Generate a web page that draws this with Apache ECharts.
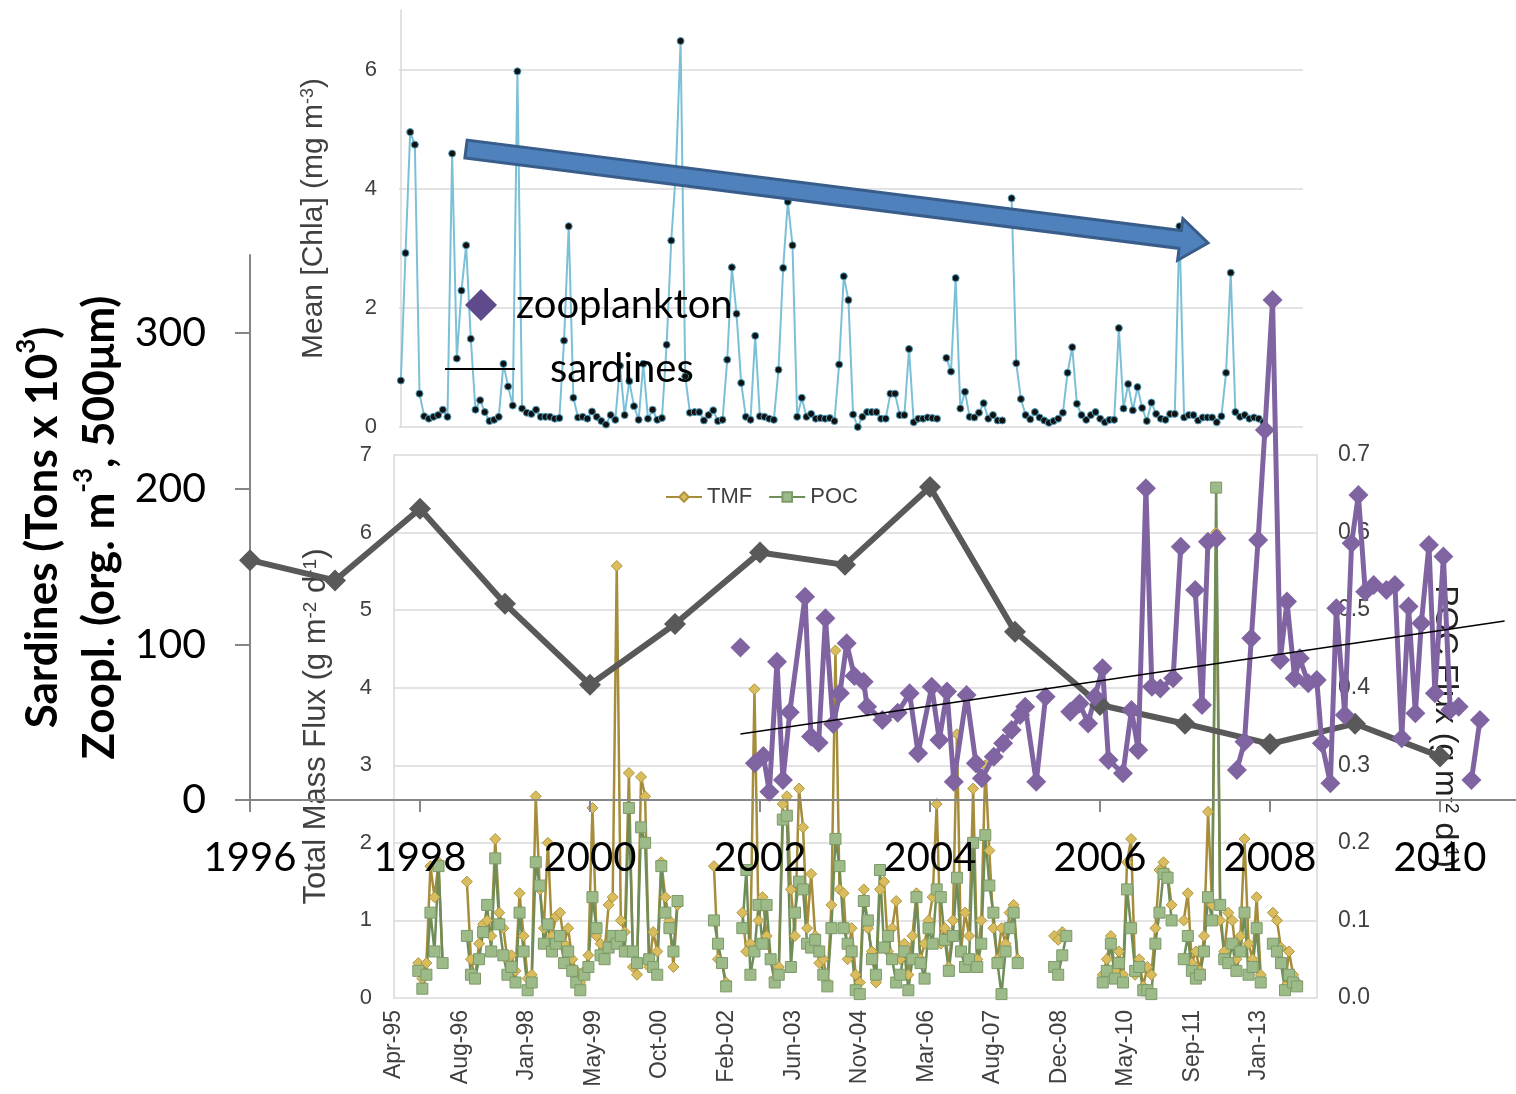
<!DOCTYPE html>
<html>
<head>
<meta charset="utf-8">
<script src="https://cdn.jsdelivr.net/npm/echarts@6/dist/echarts.min.js"></script>
<style>
  html, body { margin: 0; padding: 0; background: #fff; }
  #chart { width: 1516px; height: 1094px; }
</style>
</head>
<body>
<div id="chart"></div>
<script>
// ---- top panel: mean chlorophyll, one value per cruise (mg m-3) ----
const chla = [
  0.78, 2.92, 4.95, 4.74, 0.56, 0.18, 0.14, 0.17, 0.2, 0.29,
  0.17, 4.59, 1.15, 2.29, 3.05, 1.48, 0.29, 0.45, 0.25, 0.1,
  0.12, 0.17, 1.06, 0.68, 0.36, 5.97, 0.31, 0.24, 0.22, 0.29,
  0.17, 0.17, 0.17, 0.14, 0.15, 1.45, 3.37, 0.49, 0.16, 0.17,
  0.14, 0.26, 0.17, 0.1, 0.04, 0.2, 0.12, 1.03, 0.2, 0.77,
  0.35, 0.12, 1.06, 0.14, 0.29, 0.12, 0.15, 1.38, 3.13, 4.3,
  6.48, 0.85, 0.24, 0.25, 0.25, 0.11, 0.2, 0.28, 0.1, 0.12,
  1.13, 2.68, 1.9, 0.74, 0.17, 0.12, 1.53, 0.18, 0.17, 0.14,
  0.12, 0.96, 2.67, 3.78, 3.05, 0.17, 0.49, 0.17, 0.22, 0.14,
  0.15, 0.14, 0.15, 0.1, 1.05, 2.53, 2.13, 0.21, 0.0, 0.17,
  0.25, 0.25, 0.25, 0.14, 0.14, 0.56, 0.56, 0.2, 0.2, 1.31,
  0.08, 0.14, 0.14, 0.16, 0.15, 0.14, null, 1.16, 0.93, 2.5,
  0.31, 0.59, 0.17, 0.16, 0.24, 0.4, 0.14, 0.2, 0.11, 0.11,
  null, 3.84, 1.07, 0.47, 0.2, 0.13, 0.25, 0.16, 0.11, 0.07,
  0.1, 0.14, 0.24, 0.91, 1.34, 0.39, 0.2, 0.12, 0.2, 0.25,
  0.14, 0.08, 0.12, 0.12, 1.66, 0.31, 0.72, 0.28, 0.67, 0.32,
  0.1, 0.41, 0.22, 0.14, 0.12, 0.22, 0.22, 3.37, 0.16, 0.2,
  0.2, 0.11, 0.16, 0.16, 0.16, 0.08, 0.18, 0.91, 2.59, 0.25,
  0.17, 0.2, 0.14, 0.16, 0.14, 0.08
];
const chlaTicks = [0, 2, 4, 6];

// ---- middle panel: sediment trap fluxes, one value per month after Apr-95 ----
const fluxStart = Date.UTC(1995, 3, 12);
const tmf = [ // g m-2 d-1
  null, null, null, null, null, null, 0.45, 0.25, 0.45, 1.7,
  1.3, 1.75, 0.45, null, null, null, null, null, 1.5, 0.5,
  0.25, 0.7, 0.95, 1.0, 0.8, 2.05, 1.1, 0.9, 0.5, 0.55,
  0.35, 1.35, 0.8, 0.25, 0.3, 2.6, 1.4, 0.9, 2.0, 0.8,
  1.05, 1.1, 0.7, 0.9, 0.5, 0.35, 0.2, 0.35, 0.55, 2.45,
  0.8, 0.7, 0.6, 1.2, 1.3, 5.57, 1.0, 0.85, 2.9, 0.4,
  0.3, 2.85, 2.6, 0.4, 0.85, 0.6, 1.75, 1.3, 1.0, 0.4,
  1.2, null, null, null, null, null, null, null, null, 1.7,
  0.5, 0.45, 0.2, null, null, null, 1.1, 0.6, 0.7, 3.98,
  1.0, 1.3, 0.8, 0.5, 0.25, 0.4, 2.5, 2.6, 1.4, 0.8,
  2.7, 2.2, 0.9, 1.6, 0.8, 0.45, 0.5, 0.2, 1.2, 4.48,
  1.4, 1.35, 0.5, 0.9, 0.3, 0.2, 1.4, 0.9, 0.6, 0.2,
  1.4, 1.5, 0.6, 0.9, 1.25, 0.5, 0.7, 0.3, 0.8, 1.35,
  0.5, 0.7, 1.0, 1.3, 2.5, 0.7, 0.9, 0.4, 1.0, 3.4,
  0.6, 1.1, 0.8, 2.7, 0.5, 1.0, 3.0, 1.9, 0.9, 0.5,
  0.9, 0.7, 1.1, 1.2, 0.5, null, null, null, null, null,
  null, null, null, 0.8, 0.75, 0.85, 0.8, null, null, null,
  null, null, null, null, null, 0.3, 0.5, 0.8, 0.35, 0.6,
  0.3, 1.75, 2.05, 0.3, 0.5, 0.15, 0.4, 0.3, 0.9, 1.65,
  1.75, 1.6, 1.2, null, null, 1.0, 1.35, 0.45, 0.6, 0.35,
  0.8, 2.4, 1.2, 6.0, 1.0, 0.6, 1.1, 1.0, 0.5, 0.8,
  2.05, 0.7, 0.5, 1.3, 0.3, null, null, 1.1, 1.0, 0.65,
  0.15, 0.6, 0.3, 0.2
];
const poc = [ // g m-2 d-1
  null, null, null, null, null, null, 0.035, 0.012, 0.03, 0.11,
  0.06, 0.17, 0.045, null, null, null, null, null, 0.08, 0.03,
  0.025, 0.05, 0.085, 0.12, 0.06, 0.18, 0.095, 0.055, 0.03, 0.04,
  0.02, 0.11, 0.06, 0.01, 0.02, 0.175, 0.145, 0.07, 0.095, 0.06,
  0.07, 0.08, 0.045, 0.06, 0.035, 0.02, 0.01, 0.03, 0.04, 0.13,
  0.09, 0.055, 0.05, 0.065, 0.08, 0.07, 0.08, 0.06, 0.245, 0.06,
  0.045, 0.22, 0.2, 0.05, 0.04, 0.03, 0.17, 0.11, 0.09, 0.06,
  0.125, null, null, null, null, null, null, null, null, 0.1,
  0.07, 0.045, 0.015, null, null, null, 0.09, 0.165, 0.03, 0.06,
  0.12, 0.07, 0.12, 0.05, 0.02, 0.03, 0.23, 0.235, 0.04, 0.11,
  0.15, 0.14, 0.07, 0.065, 0.075, 0.06, 0.03, 0.015, 0.09, 0.205,
  0.17, 0.09, 0.07, 0.06, 0.01, 0.005, 0.125, 0.1, 0.05, 0.03,
  0.165, 0.065, 0.08, 0.05, 0.02, 0.03, 0.06, 0.01, 0.05, 0.13,
  0.045, 0.025, 0.09, 0.07, 0.14, 0.13, 0.075, 0.035, 0.08, 0.155,
  0.06, 0.04, 0.05, 0.2, 0.04, 0.07, 0.21, 0.145, 0.11, 0.045,
  0.005, 0.06, 0.09, 0.11, 0.045, null, null, null, null, null,
  null, null, null, 0.04, 0.03, 0.055, 0.08, null, null, null,
  null, null, null, null, null, 0.02, 0.035, 0.07, 0.025, 0.045,
  0.02, 0.14, 0.09, 0.035, 0.04, 0.01, 0.01, 0.005, 0.07, 0.11,
  0.16, 0.155, 0.1, null, null, 0.05, 0.08, 0.035, 0.025, 0.03,
  0.06, 0.13, 0.1, 0.658, 0.12, 0.05, 0.045, 0.07, 0.035, 0.06,
  0.11, 0.03, 0.04, 0.09, 0.02, null, null, 0.07, 0.06, 0.045,
  0.01, 0.03, 0.02, 0.015
];

// ---- front panel: sardines landings and zooplankton ----
const years = [1996, 1997, 1998, 1999, 2000, 2001, 2002, 2003, 2004, 2005, 2006, 2007, 2008, 2009, 2010];
const sardines = [154, 141, 187, 126, 74, 113, 159, 151, 201, 108, 61, 49, 36, 49, 28];
// [decimal year, org. m-3]; null = no sampling between
const zooplankton = [
  [2001.77, 98], null,
  [2001.94, 23.6], [2002.04, 28.3], [2002.11, 5.3], [2002.2, 88.8], [2002.27, 12.8], [2002.35, 56.3],
  [2002.53, 130.6], [2002.6, 40.7], [2002.69, 36.8], [2002.77, 116.7], [2002.86, 48.8], [2002.94, 68.5],
  [2003.02, 100.6], [2003.11, 79.6], [2003.22, 76], [2003.26, 59.9], [2003.44, 51.4], [2003.62, 56.1],
  [2003.76, 68.5], [2003.86, 30], [2004.02, 72.8], [2004.11, 38.5], [2004.2, 69.6], [2004.28, 11.8],
  [2004.43, 67.4], [2004.54, 23.6], [2004.61, 13.9], [2004.75, 27.8], [2004.86, 36.4], [2004.96, 45],
  [2005.06, 54.6], [2005.12, 59.9], [2005.25, 11.8], [2005.36, 66.3], null,
  [2005.65, 56.7], [2005.76, 62], [2005.86, 49.2], [2005.94, 66.3], [2006.03, 84.6], [2006.1, 25.7],
  [2006.27, 17.1], [2006.37, 57.8], [2006.45, 32.1], [2006.54, 200.2], [2006.61, 72.8], [2006.71, 71.6],
  [2006.86, 78.2], [2006.95, 162.7], null,
  [2007.12, 134.9], [2007.2, 61], [2007.27, 165.9], [2007.37, 168], null,
  [2007.61, 19.3], [2007.7, 37.4], [2007.78, 103.8], [2007.86, 167], [2007.94, 237.6], [2008.03, 321.1],
  [2008.12, 89.9], [2008.2, 127.4], [2008.29, 78.2], [2008.35, 91], [2008.45, 74.9], [2008.55, 77.1],
  [2008.61, 36.4], [2008.71, 10.7], [2008.78, 123.1], [2008.88, 54.6], [2008.96, 164.9], [2009.04, 195.9],
  [2009.12, 133.8], [2009.22, 138.1], null,
  [2009.37, 134.9], [2009.47, 138.1], [2009.55, 39.6], [2009.63, 124.2], [2009.71, 55.7], [2009.78, 113.5],
  [2009.87, 163.8], [2009.94, 68.5], [2010.04, 156.3], [2010.12, 57.8], [2010.22, 59.9], null,
  [2010.37, 12.8], [2010.47, 51.4]
];
const zooTrend = [[2001.77, 42.4], [2010.76, 115]];
const yearTicks = [1996, 1998, 2000, 2002, 2004, 2006, 2008, 2010];
const sardTicks = [0, 100, 200, 300];

const monthNames = ['Jan', 'Feb', 'Mar', 'Apr', 'May', 'Jun', 'Jul', 'Aug', 'Sep', 'Oct', 'Nov', 'Dec'];
const sans = '"Liberation Sans", Arial, sans-serif';
const calibri = 'Lato, "Open Sans", sans-serif';
const faint = '#d9d9d9';

const toPairs = (arr) => arr.map((v, i) => [i, v == null ? '-' : v]);

// split zooplankton into connected runs
const zooRuns = [[]];
zooplankton.forEach((p) => {
  if (p == null) zooRuns.push([]);
  else zooRuns[zooRuns.length - 1].push(p);
});

const supRich = (size) => ({ s: { fontSize: size, verticalAlign: 'top', padding: [0, 0, size * 0.6, 0] } });

const zooSeries = zooRuns.map((run) => ({
  name: 'zooplankton',
  type: 'line',
  xAxisIndex: 2,
  yAxisIndex: 3,
  data: run,
  symbol: 'diamond',
  symbolSize: 20,
  lineStyle: { color: '#8064a2', width: 5 },
  itemStyle: { color: '#8064a2' },
  z: 8,
  silent: true,
}));

// blue trend arrow over the chlorophyll panel
const arrowTail = [466, 149];
const arrowTip = [1208, 243];
const arrowPoints = (() => {
  const dx = arrowTip[0] - arrowTail[0];
  const dy = arrowTip[1] - arrowTail[1];
  const len = Math.sqrt(dx * dx + dy * dy);
  const ux = dx / len, uy = dy / len;
  const nx = -uy, ny = ux;
  const hw = 9, hh = 21, hl = 28;
  const bx = arrowTip[0] - ux * hl, by = arrowTip[1] - uy * hl;
  return [
    [arrowTail[0] + nx * hw, arrowTail[1] + ny * hw],
    [arrowTail[0] - nx * hw, arrowTail[1] - ny * hw],
    [bx - nx * hw, by - ny * hw],
    [bx - nx * hh, by - ny * hh],
    arrowTip,
    [bx + nx * hh, by + ny * hh],
    [bx + nx * hw, by + ny * hw],
  ];
})();

const chart = echarts.init(document.getElementById('chart'));

chart.setOption({
  animation: false,
  grid: [
    { left: 399, right: 213, top: 10, bottom: 667 },
    { left: 394, right: 199, top: 455, bottom: 96 },
    { left: 250, right: 0, top: 255, bottom: 294 },
  ],
  legend: [
    {
      data: ['TMF', 'POC'],
      left: 660,
      top: 481,
      itemWidth: 36,
      itemHeight: 12,
      itemGap: 16,
      selectedMode: false,
      textStyle: { fontSize: 22, color: '#404040', fontFamily: sans },
      z: 6,
    },
    {
      data: [{ name: 'zooplankton', icon: 'diamond', itemStyle: { color: '#5f4b8b' } }],
      left: 460,
      top: 280,
      itemWidth: 32,
      itemHeight: 32,
      selectedMode: false,
      textStyle: { fontSize: 40, color: '#000', fontFamily: calibri, padding: [0, 0, 0, 14] },
      z: 9,
    },
    {
      data: [{ name: 'sardines', icon: 'path://M0,0L70,0L70,2L0,2Z', itemStyle: { color: '#000' } }],
      left: 440,
      top: 344,
      itemWidth: 70,
      itemHeight: 2,
      selectedMode: false,
      textStyle: { fontSize: 40, color: '#000', fontFamily: calibri, padding: [0, 0, 14, 30] },
      z: 9,
    },
  ],
  xAxis: [
    { gridIndex: 0, type: 'value', min: -0.4, max: 193.5, show: false },
    {
      gridIndex: 1,
      type: 'value',
      min: 0,
      max: 227.9,
      interval: 500 / 30.4375,
      axisLine: { show: false },
      axisTick: { show: false },
      splitLine: { show: false },
      axisLabel: {
        rotate: 90,
        margin: 12,
        fontSize: 23,
        color: '#404040',
        fontFamily: sans,
        showMaxLabel: false,
        formatter: (v) => {
          const d = new Date(fluxStart + v * 30.4375 * 864e5);
          return monthNames[d.getUTCMonth()] + '-' + String(d.getUTCFullYear()).slice(2);
        },
      },
      z: 4,
    },
    {
      gridIndex: 2,
      type: 'value',
      min: 1996,
      max: 2010.894,
      interval: 2,
      axisLine: { lineStyle: { color: '#868686', width: 2 } },
      axisTick: { length: 12, customValues: yearTicks, lineStyle: { color: '#868686', width: 2 } },
      splitLine: { show: false },
      axisLabel: {
        customValues: yearTicks,
        fontSize: 40,
        color: '#000',
        fontFamily: calibri,
        margin: 38,
        formatter: (v) => String(v),
      },
      z: 7,
    },
  ],
  yAxis: [
    {
      gridIndex: 0,
      type: 'value',
      min: 0,
      max: 7,
      interval: 2,
      name: 'Mean [Chla] (mg m{s|-3})',
      nameLocation: 'middle',
      nameGap: 70,
      nameTextStyle: { fontSize: 30, color: '#404040', fontFamily: sans, rich: supRich(18) },
      axisLine: { show: true, lineStyle: { color: faint, width: 1.5 } },
      axisTick: { show: false, customValues: chlaTicks },
      axisLabel: { customValues: chlaTicks, fontSize: 22, color: '#404040', fontFamily: sans, margin: 22 },
      splitLine: { lineStyle: { color: '#e3e3e3', width: 2 } },
      z: 1,
    },
    {
      gridIndex: 1,
      type: 'value',
      min: 0,
      max: 7,
      interval: 1,
      name: 'Total Mass Flux (g m{s|-2} d{s|-1})',
      nameLocation: 'middle',
      nameGap: 62,
      nameTextStyle: { fontSize: 31, color: '#404040', fontFamily: sans, rich: supRich(19) },
      axisLine: { show: true, lineStyle: { color: faint, width: 1.5 } },
      axisTick: { show: false },
      axisLabel: { fontSize: 22, color: '#404040', fontFamily: sans, margin: 22 },
      splitLine: { lineStyle: { color: '#e3e3e3', width: 2 } },
      z: 4,
    },
    {
      gridIndex: 1,
      type: 'value',
      position: 'right',
      min: 0,
      max: 0.7,
      interval: 0.1,
      name: 'POC Flux (g m{s|-2} d{s|-1})',
      nameLocation: 'middle',
      nameRotate: -90,
      nameGap: 112,
      nameTextStyle: { fontSize: 32, color: '#222', fontFamily: sans, rich: supRich(19) },
      axisLine: { show: true, lineStyle: { color: faint, width: 1.5 } },
      axisTick: { show: false },
      axisLabel: {
        fontSize: 23,
        color: '#404040',
        fontFamily: sans,
        margin: 21,
        formatter: (v) => v.toFixed(1),
      },
      splitLine: { show: false },
      z: 4,
    },
    {
      gridIndex: 2,
      type: 'value',
      min: 0,
      max: 350,
      interval: 100,
      name: '{b|Sardines (Tons x 10}{bs|3}{b|)}\n{b|Zoopl. (org. m}{bs|-3}{b|, 500μm)}',
      nameLocation: 'middle',
      nameGap: 122,
      nameTextStyle: {
        rich: {
          b: { fontSize: 44, fontWeight: 'bold', color: '#000', fontFamily: calibri, lineHeight: 57 },
          bs: { fontSize: 26, fontWeight: 'bold', color: '#000', fontFamily: calibri, verticalAlign: 'top', lineHeight: 57, padding: [0, 0, 14, 0] },
        },
      },
      axisLine: { show: true, lineStyle: { color: '#868686', width: 2 } },
      axisTick: { show: true, length: 15, customValues: sardTicks, lineStyle: { color: '#868686', width: 2 } },
      axisLabel: { customValues: sardTicks, fontSize: 41, color: '#000', fontFamily: calibri, margin: 44 },
      splitLine: { show: false },
      z: 7,
    },
  ],
  graphic: [
    {
      type: 'polygon',
      shape: { points: arrowPoints },
      style: { fill: '#4f81bd', stroke: '#385d8a', lineWidth: 3 },
      z: 3,
      silent: true,
    },
  ],
  series: [
    {
      name: 'Chla',
      type: 'line',
      xAxisIndex: 0,
      yAxisIndex: 0,
      data: toPairs(chla),
      symbol: 'circle',
      symbolSize: 7,
      lineStyle: { color: '#7cc0d8', width: 2 },
      itemStyle: { color: '#111', borderColor: '#4f9fbb', borderWidth: 1 },
      z: 2,
      silent: true,
    },
    {
      name: 'TMF',
      type: 'line',
      xAxisIndex: 1,
      yAxisIndex: 1,
      data: toPairs(tmf),
      symbol: 'diamond',
      symbolSize: 11,
      lineStyle: { color: '#a58d3b', width: 2.5 },
      itemStyle: { color: '#d8bc5e', borderColor: '#ae963f', borderWidth: 1 },
      z: 5,
      silent: true,
    },
    {
      name: 'POC',
      type: 'line',
      xAxisIndex: 1,
      yAxisIndex: 2,
      data: toPairs(poc),
      symbol: 'rect',
      symbolSize: 11,
      lineStyle: { color: '#6e8d58', width: 2.5 },
      itemStyle: { color: '#9dbb88', borderColor: '#7d9a69', borderWidth: 1 },
      z: 5,
      silent: true,
    },
    {
      name: 'sardines',
      type: 'line',
      xAxisIndex: 2,
      yAxisIndex: 3,
      data: years.map((y, i) => [y, sardines[i]]),
      symbol: 'diamond',
      symbolSize: 22,
      lineStyle: { color: '#595959', width: 6 },
      itemStyle: { color: '#595959' },
      z: 8,
      silent: true,
    },
    ...zooSeries,
    {
      name: 'trend',
      type: 'line',
      xAxisIndex: 2,
      yAxisIndex: 3,
      data: zooTrend,
      symbol: 'none',
      lineStyle: { color: '#000', width: 1.5 },
      z: 9,
      silent: true,
    },
  ],
});
</script>
</body>
</html>
